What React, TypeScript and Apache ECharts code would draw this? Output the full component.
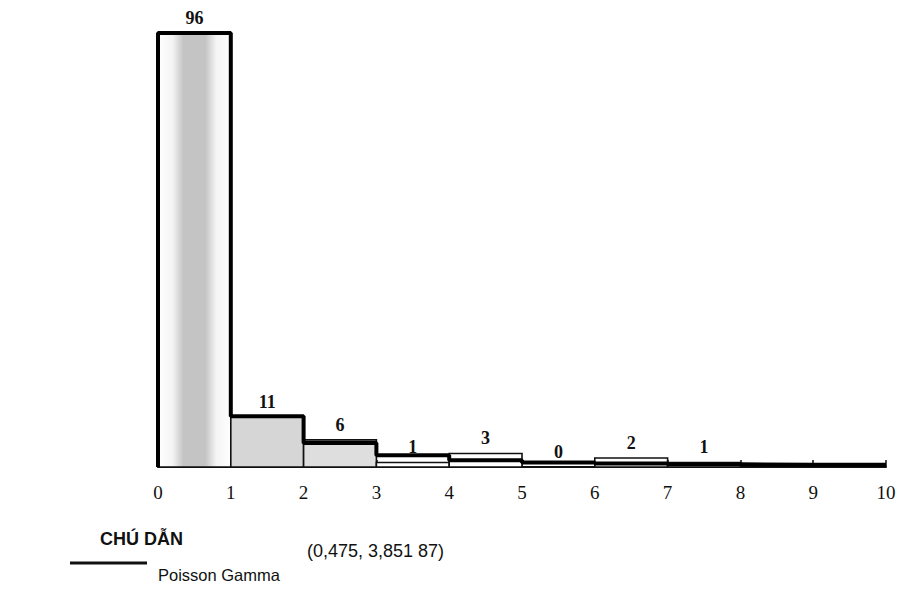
import React, { useEffect, useRef } from "react";
import * as echarts from "echarts";

// Histogram bins (lower edges), observed counts and fitted Poisson-Gamma values
const BIN_STARTS = [0, 1, 2, 3, 4, 5, 6, 7];
const OBSERVED = [96, 11, 6, 1, 3, 0, 2, 1];
const FIT_BINS = [0, 1, 2, 3, 4, 5, 6, 7, 8, 9];
const FITTED = [96, 11.2, 5.3, 2.6, 1.5, 1.0, 0.8, 0.6, 0.5, 0.5];
const X_TICKS = ["0", "1", "2", "3", "4", "5", "6", "7", "8", "9", "10"];
const LEGEND_TITLE = "CHÚ DẪN";
const LEGEND_NAME = "Poisson Gamma";
const LEGEND_PARAMS = "(0,475, 3,851 87)";

const BAR_FILLS: any[] = [
  {
    type: "linear", x: 0, y: 0, x2: 1, y2: 0,
    colorStops: [
      { offset: 0, color: "#ffffff" },
      { offset: 0.2, color: "#f4f4f4" },
      { offset: 0.35, color: "#c4c4c4" },
      { offset: 0.65, color: "#c4c4c4" },
      { offset: 0.8, color: "#f4f4f4" },
      { offset: 1, color: "#ffffff" },
    ],
  },
  "#d6d6d6",
  "#dedede",
  "#ffffff",
  "#ffffff",
  "#ffffff",
  "#ffffff",
  "#ffffff",
];

export default function App() {
  const ref = useRef<HTMLDivElement>(null);
  useEffect(() => {
    document.body.style.margin = "0";
    if (!ref.current) return;
    const chart = echarts.init(ref.current, null, { renderer: "svg" });

    const barData = BIN_STARTS.map((b, i) => [b, OBSERVED[i], i]);
    const stepData: number[][] = [[FIT_BINS[0], 0]];
    FIT_BINS.forEach((b, i) => {
      stepData.push([b, FITTED[i]]);
      stepData.push([b + 1, FITTED[i]]);
    });

    chart.setOption({
      animation: false,
      backgroundColor: "#ffffff",
      grid: { left: 158, right: 15, top: 33, bottom: 123 },
      xAxis: {
        type: "value",
        min: 0,
        max: 10,
        interval: 1,
        splitLine: { show: false },
        axisLine: { lineStyle: { color: "#111", width: 2 } },
        axisTick: { inside: true, length: 7, lineStyle: { color: "#111", width: 1.5 } },
        axisLabel: {
          margin: 16,
          color: "#111",
          fontFamily: "Liberation Serif",
          fontSize: 19,
          formatter: (v: number) => X_TICKS[Math.round(v)] ?? "",
        },
      },
      yAxis: {
        type: "value",
        min: 0,
        max: 96,
        show: false,
        splitLine: { show: false },
      },
      series: [
        {
          type: "custom",
          data: barData,
          z: 2,
          renderItem: (params: any, api: any) => {
            const x0 = api.value(0);
            const v = api.value(1);
            const idx = api.value(2);
            const p0 = api.coord([x0, 0]);
            const p1 = api.coord([x0 + 1, v]);
            return {
              type: "group",
              children: [
                {
                  type: "rect",
                  shape: { x: p0[0], y: p1[1], width: p1[0] - p0[0], height: p0[1] - p1[1] },
                  style: { fill: BAR_FILLS[idx], stroke: "#111", lineWidth: 1.6 },
                },
                {
                  type: "text",
                  x: (p0[0] + p1[0]) / 2,
                  y: p1[1] - 6,
                  style: {
                    text: String(v),
                    fill: "#111",
                    font: "bold 18px 'Liberation Serif'",
                    align: "center",
                    verticalAlign: "bottom",
                  },
                },
              ],
            };
          },
        },
        {
          type: "line",
          name: LEGEND_NAME,
          data: stepData,
          z: 5,
          symbol: "none",
          lineStyle: { color: "#000", width: 4 },
        },
      ],
      graphic: [
        {
          type: "text",
          left: 100,
          top: 530,
          style: { text: LEGEND_TITLE, fill: "#111", font: "bold 18px 'Liberation Sans'" },
        },
        {
          type: "line",
          shape: { x1: 70, y1: 563, x2: 147, y2: 563 },
          style: { stroke: "#111", lineWidth: 3 },
        },
        {
          type: "text",
          left: 158,
          top: 566,
          style: { text: LEGEND_NAME, fill: "#111", font: "16.5px 'Liberation Sans'" },
        },
        {
          type: "text",
          left: 307,
          top: 542,
          style: { text: LEGEND_PARAMS, fill: "#111", font: "18px 'Liberation Sans'" },
        },
      ],
    });
    return () => chart.dispose();
  }, []);
  return <div ref={ref} style={{ width: 901, height: 590 }} />;
}
